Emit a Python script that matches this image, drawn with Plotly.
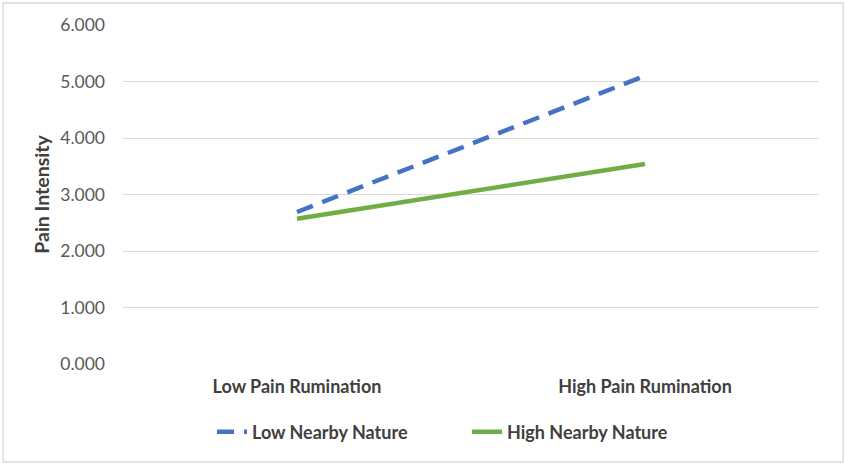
import plotly.graph_objects as go

categories = ["Low Pain Rumination", "High Pain Rumination"]
low_nature = [2.69, 5.10]
high_nature = [2.57, 3.54]
y_ticks = [0, 1, 2, 3, 4, 5, 6]

fig = go.Figure()
fig.add_trace(go.Scatter(
    x=categories, y=low_nature, mode="lines", name="Low Nearby Nature",
    line=dict(color="#4472C4", width=4.5, dash="17px,10px"),
))
fig.add_trace(go.Scatter(
    x=categories, y=high_nature, mode="lines", name="High Nearby Nature",
    line=dict(color="#70AD47", width=4.5),
))

L, R, T, B = 123, 819, 25, 364
W, H = R - L, B - T

font_fam = "Lato, 'Open Sans', sans-serif"
fig.update_layout(
    width=846, height=464,
    margin=dict(l=L, r=846 - R, t=T, b=464 - B, autoexpand=False),
    paper_bgcolor="white", plot_bgcolor="white",
    font=dict(family=font_fam, color="#595959", size=17),
    showlegend=True,
    legend=dict(orientation="h", x=(212 - L) / W, xanchor="left", y=(B - 432) / H, yanchor="middle",
                entrywidth=210, entrywidthmode="pixels",
                font=dict(size=18, color="#404040", family=font_fam, weight="bold"),
                traceorder="normal"),
    xaxis=dict(range=[-0.5, 1.5], showgrid=False, showline=False, zeroline=False, ticks="",
               automargin=False, ticklabelstandoff=10,
               tickfont=dict(size=18, color="#404040", weight="bold")),
    yaxis=dict(range=[0, 6], tickvals=y_ticks, tickformat=".3f", automargin=False,
               showgrid=True, gridcolor="#D9D9D9", gridwidth=1.3,
               zeroline=False, showline=False, ticks="",
               ticklabelstandoff=17,
               tickfont=dict(size=17.5, color="#595959"),
               title=dict(text="Pain Intensity", standoff=5,
                          font=dict(size=19.5, color="#404040", weight="bold"))),
    shapes=[dict(type="rect", xref="paper", yref="paper",
                 x0=(3 - L) / W, x1=(843 - L) / W,
                 y0=(B - 462) / H, y1=(B - 3) / H,
                 line=dict(color="#D9D9D9", width=1.3), fillcolor="rgba(0,0,0,0)",
                 layer="below")],
)

fig.write_html("out.html", config={"displayModeBar": False},
               post_script="document.body.style.margin='0';")
